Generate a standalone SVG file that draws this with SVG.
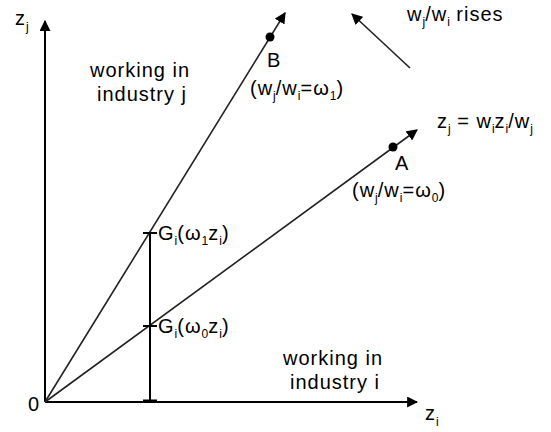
<svg xmlns="http://www.w3.org/2000/svg" width="551" height="432" viewBox="0 0 551 432">
<defs>
<marker id="ah" viewBox="0 0 10 10" refX="9" refY="5" markerWidth="5.5" markerHeight="5.5" orient="auto" markerUnits="strokeWidth">
<path d="M0,0 L10,5 L0,10 z" fill="#000"/>
</marker>
<marker id="ah2" viewBox="0 0 10 10" refX="9" refY="5" markerWidth="7" markerHeight="7" orient="auto" markerUnits="strokeWidth">
<path d="M0,0 L10,5 L0,10 z" fill="#000"/>
</marker>
</defs>
<style>
text{font-family:"Liberation Sans",Arial,sans-serif;font-size:20px;letter-spacing:1px;fill:#000}
.s{font-size:12px;letter-spacing:0}
.ax{stroke:#000;stroke-width:2;fill:none}
.ray{stroke:#222;stroke-width:1.6;fill:none}
</style>
<rect width="551" height="432" fill="#fff"/>
<g id="connectors">
<line class="ax" x1="45" y1="402" x2="45" y2="21" marker-end="url(#ah)"/>
<line class="ax" x1="45" y1="402" x2="417" y2="402" marker-end="url(#ah)"/>
<line class="ray" x1="45" y1="402" x2="285" y2="13" marker-end="url(#ah2)"/>
<line class="ray" x1="45" y1="402" x2="417" y2="130" marker-end="url(#ah2)"/>
<line class="ray" x1="410" y1="68" x2="352" y2="14" marker-end="url(#ah2)"/>
<line class="ax" x1="150" y1="233" x2="150" y2="402"/>
<line class="ax" x1="143" y1="233" x2="157" y2="233"/>
<line class="ax" x1="143" y1="326" x2="157" y2="326"/>
<line x1="143" y1="401" x2="157" y2="401" stroke="#000" stroke-width="3"/>
</g>
<g id="axis-y"><text x="15" y="25">z<tspan class="s" dy="6">j</tspan></text></g>
<g id="axis-x"><text x="425" y="420">z<tspan class="s" dy="6">i</tspan></text></g>
<g id="origin"><text x="28" y="411">0</text></g>
<g id="region-j"><text x="90" y="77">working in</text><text x="97" y="101">industry j</text></g>
<g id="region-i"><text x="283" y="365">working in</text><text x="290" y="389">industry i</text></g>
<g id="rises"><text x="407" y="21">w<tspan class="s" dy="5">j</tspan><tspan dy="-5">/w</tspan><tspan class="s" dy="5">i</tspan><tspan dy="-5"> rises</tspan></text></g>
<g id="pointB">
<circle cx="270" cy="37" r="4.5" fill="#000"/>
<text x="267" y="67">B</text>
<text x="250" y="95">(w<tspan class="s" dy="5">j</tspan><tspan dy="-5">/w</tspan><tspan class="s" dy="5">i</tspan><tspan dy="-5">=ω</tspan><tspan class="s" dy="5">1</tspan><tspan dy="-5">)</tspan></text>
</g>
<g id="pointA">
<circle cx="393" cy="147" r="4.5" fill="#000"/>
<text x="395" y="170">A</text>
<text x="352" y="197">(w<tspan class="s" dy="5">j</tspan><tspan dy="-5">/w</tspan><tspan class="s" dy="5">i</tspan><tspan dy="-5">=ω</tspan><tspan class="s" dy="5">0</tspan><tspan dy="-5">)</tspan></text>
</g>
<g id="ray-label"><text x="437" y="128">z<tspan class="s" dy="5">j</tspan><tspan dy="-5"> = w</tspan><tspan class="s" dy="5">i</tspan><tspan dy="-5">z</tspan><tspan class="s" dy="5">i</tspan><tspan dy="-5">/w</tspan><tspan class="s" dy="5">j</tspan></text></g>
<g id="G1"><text x="158" y="240">G<tspan class="s" dy="5">i</tspan><tspan dy="-5">(ω</tspan><tspan class="s" dy="5">1</tspan><tspan dy="-5">z</tspan><tspan class="s" dy="5">i</tspan><tspan dy="-5">)</tspan></text></g>
<g id="G0"><text x="158" y="333">G<tspan class="s" dy="5">i</tspan><tspan dy="-5">(ω</tspan><tspan class="s" dy="5">0</tspan><tspan dy="-5">z</tspan><tspan class="s" dy="5">i</tspan><tspan dy="-5">)</tspan></text></g>
</svg>
